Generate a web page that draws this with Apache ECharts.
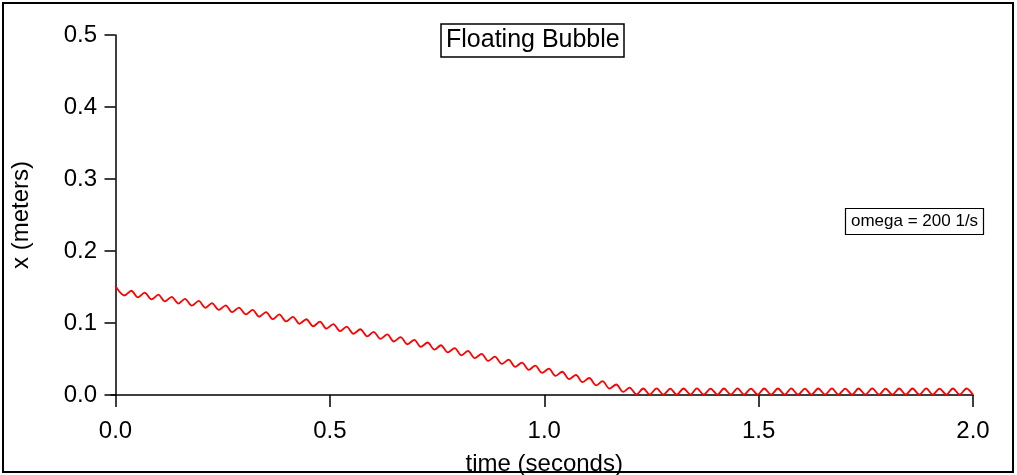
<!DOCTYPE html>
<html>
<head>
<meta charset="utf-8">
<script src="https://cdn.jsdelivr.net/npm/echarts@6/dist/echarts.min.js"></script>
<style>
html,body{margin:0;padding:0;background:#fff;}
#chart{width:1017px;height:475px;}
</style>
</head>
<body>
<div id="chart"></div>
<script>
// time (seconds) of each read point (start + successive troughs/peaks)
const times = [
  0,
  0.021, 0.037, 0.052, 0.068, 0.084, 0.100, 0.115, 0.131, 0.147, 0.162,
  0.178, 0.194, 0.210, 0.225, 0.241, 0.257, 0.272, 0.288, 0.304, 0.320,
  0.335, 0.351, 0.367, 0.382, 0.398, 0.414, 0.429, 0.445, 0.461, 0.477,
  0.492, 0.508, 0.524, 0.539, 0.555, 0.571, 0.587, 0.602, 0.618, 0.634,
  0.649, 0.665, 0.681, 0.697, 0.712, 0.728, 0.744, 0.759, 0.775, 0.791,
  0.807, 0.822, 0.838, 0.854, 0.869, 0.885, 0.901, 0.917, 0.932, 0.948,
  0.964, 0.979, 0.995, 1.011, 1.026, 1.042, 1.058, 1.074, 1.089, 1.105,
  1.121, 1.136, 1.152, 1.168, 1.184, 1.199, 1.215, 1.231, 1.246, 1.262,
  1.278, 1.294, 1.309, 1.325, 1.341, 1.356, 1.372, 1.388, 1.404, 1.419,
  1.435, 1.451, 1.466, 1.482, 1.498, 1.513, 1.529, 1.545, 1.561, 1.576,
  1.592, 1.608, 1.623, 1.639, 1.655, 1.671, 1.686, 1.702, 1.718, 1.733,
  1.749, 1.765, 1.781, 1.796, 1.812, 1.828, 1.843, 1.859, 1.875, 1.891,
  1.906, 1.922, 1.938, 1.953, 1.969, 1.985, 2.000
];
// x (meters) at those times
const positions = [
  0.151,
  0.1382, 0.1448, 0.1355, 0.1421, 0.1327, 0.1393, 0.1299, 0.1364, 0.1270, 0.1336,
  0.1241, 0.1306, 0.1211, 0.1276, 0.1181, 0.1245, 0.1150, 0.1214, 0.1119, 0.1182,
  0.1087, 0.1151, 0.1054, 0.1119, 0.1022, 0.1085, 0.0989, 0.1052, 0.0955, 0.1018,
  0.0921, 0.0984, 0.0886, 0.0949, 0.0851, 0.0913, 0.0815, 0.0878, 0.0779, 0.0841,
  0.0743, 0.0804, 0.0705, 0.0766, 0.0668, 0.0729, 0.0629, 0.0691, 0.0591, 0.0651,
  0.0551, 0.0612, 0.0512, 0.0572, 0.0473, 0.0532, 0.0431, 0.0490, 0.0391, 0.0450,
  0.0348, 0.0408, 0.0307, 0.0365, 0.0265, 0.0323, 0.0221, 0.0279, 0.0178, 0.0236,
  0.0133, 0.0192, 0.0089, 0.0146, 0.0043, 0.0102, 0.0008, 0.0090, 0.0005, 0.0091,
  0.0004, 0.0089, 0.0005, 0.0090, 0.0006, 0.0091, 0.0005, 0.0089, 0.0004, 0.0090,
  0.0005, 0.0091, 0.0005, 0.0089, 0.0006, 0.0090, 0.0005, 0.0090, 0.0004, 0.0091,
  0.0005, 0.0089, 0.0005, 0.0090, 0.0006, 0.0091, 0.0005, 0.0089, 0.0004, 0.0090,
  0.0005, 0.0091, 0.0005, 0.0089, 0.0006, 0.0090, 0.0005, 0.0090, 0.0004, 0.0091,
  0.0005, 0.0089, 0.0005, 0.0090, 0.0006, 0.0090, 0.0004
];
const xTicks = [0, 0.5, 1.0, 1.5, 2.0];
const yTicks = [0, 0.1, 0.2, 0.3, 0.4, 0.5];
const titleText = 'Floating Bubble';
const noteText = 'omega = 200 1/s';
const xName = 'time (seconds)';
const yName = 'x (meters)';

const n = Math.min(times.length, positions.length);
const seriesData = [];
for (let i = 0; i < n; i++) seriesData.push([times[i], positions[i]]);

const FONT = '"Liberation Sans", Arial, sans-serif';
const chart = echarts.init(document.getElementById('chart'), null, {renderer: 'canvas'});
chart.setOption({
  animation: false,
  backgroundColor: '#fff',
  title: [
    {
      text: titleText, left: 441, top: 24,
      padding: [4, 5, 4, 5],
      borderColor: '#000', borderWidth: 1.5, backgroundColor: '#fff',
      textStyle: {fontFamily: FONT, fontSize: 25, fontWeight: 'normal', color: '#000'}
    },
    {
      text: noteText, left: 845, top: 208,
      padding: [5, 6, 5, 6],
      borderColor: '#000', borderWidth: 1.2, backgroundColor: '#fff',
      textStyle: {fontFamily: FONT, fontSize: 17, fontWeight: 'normal', color: '#000'}
    }
  ],
  graphic: [
    {type: 'rect', shape: {x: 3, y: 3, width: 1010, height: 469}, style: {fill: 'none', stroke: '#000', lineWidth: 2}, silent: true, z: 100},
    {type: 'line', shape: {x1: 110.5, y1: 395, x2: 116, y2: 395}, style: {stroke: '#000', lineWidth: 1.5}, silent: true}
  ],
  grid: {left: 115.5, right: 44, top: 35, bottom: 80, containLabel: false, outerBoundsMode: 'none'},
  xAxis: {
    type: 'value', min: 0, max: 2, interval: 0.5,
    name: xName, nameLocation: 'middle', nameGap: 57,
    nameTextStyle: {fontFamily: FONT, fontSize: 24, color: '#000'},
    axisLine: {show: true, onZero: false, lineStyle: {color: '#000', width: 1.5}},
    axisTick: {show: true, length: 12, lineStyle: {color: '#000', width: 1.5}},
    axisLabel: {
      fontFamily: FONT, fontSize: 24, color: '#000', margin: 24,
      formatter: v => xTicks.includes(+v.toFixed(2)) ? v.toFixed(1) : ''
    },
    splitLine: {show: false}
  },
  yAxis: {
    type: 'value', min: 0, max: 0.5, interval: 0.1, offset: 4.5,
    name: yName, nameLocation: 'middle', nameGap: 78, nameRotate: 90,
    nameTextStyle: {fontFamily: FONT, fontSize: 24, color: '#000'},
    axisLine: {show: true, lineStyle: {color: '#000', width: 1.5}},
    axisTick: {show: true, length: 11, lineStyle: {color: '#000', width: 1.5}},
    axisLabel: {
      fontFamily: FONT, fontSize: 24, color: '#000', margin: 14,
      formatter: v => yTicks.includes(+v.toFixed(2)) ? v.toFixed(1) : ''
    },
    splitLine: {show: false}
  },
  series: [{
    type: 'line',
    data: seriesData,
    showSymbol: false,
    smooth: 0.3,
    lineStyle: {color: '#ff0000', width: 1.8},
    clip: false
  }]
});
</script>
</body>
</html>
